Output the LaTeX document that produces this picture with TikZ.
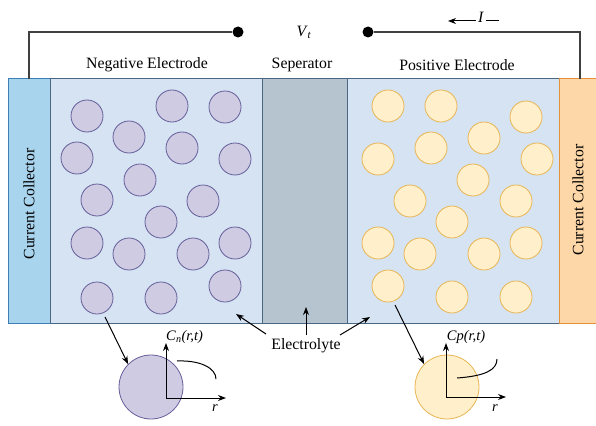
\documentclass[tikz,border=0pt]{standalone}
\usepackage{fontspec}
\setmainfont{Liberation Serif}
\usetikzlibrary{arrows.meta}
\definecolor{cclfill}{HTML}{A9D4EE}
\definecolor{cclline}{HTML}{3A80B6}
\definecolor{elfill}{HTML}{D5E3F3}
\definecolor{elline}{HTML}{4A6784}
\definecolor{sepfill}{HTML}{B5C4CF}
\definecolor{ccrfill}{HTML}{FED7A8}
\definecolor{ccrline}{HTML}{E6913A}
\definecolor{negfill}{HTML}{CECBE3}
\definecolor{negline}{HTML}{665F9A}
\definecolor{posfill}{HTML}{FFEFCA}
\definecolor{posline}{HTML}{E8B655}
\definecolor{wire}{HTML}{404040}
\begin{document}
\begin{tikzpicture}[x=1pt,y=-1pt,
  lbl/.style={font=\fontsize{15.8}{18}\selectfont, inner sep=0pt},
  slbl/.style={font=\fontsize{14.5}{17}\selectfont, inner sep=0pt},
  negp/.style={circle, draw=negline, fill=negfill, line width=0.8pt, minimum size=32pt, inner sep=0pt},
  posp/.style={circle, draw=posline, fill=posfill, line width=0.8pt, minimum size=32pt, inner sep=0pt},
  arr/.style={-{Stealth[length=8pt,width=6pt]}, line width=1pt, black},
  wireline/.style={draw=wire, line width=1.3pt},
  terminal/.style={circle, fill=black, minimum size=11pt, inner sep=0pt}]
\useasboundingbox (0,0) rectangle (596,425);
% regions
\path[fill=cclfill, draw=cclline, line width=1pt] (8,79) rectangle (50,323);
\path[fill=elfill, draw=elline, line width=1pt] (50,79) rectangle (262,323);
\path[fill=sepfill, draw=elline, line width=1pt] (262,79) rectangle (347,323);
\path[fill=elfill, draw=elline, line width=1pt] (347,79) rectangle (559,323);
\path[fill=ccrfill, draw=ccrline, line width=1pt] (559,79) rectangle (596,323);
% labels
\node[lbl, rotate=90] (ccl) at (29,204) {Current Collector};
\node[lbl, rotate=90] (ccr) at (578,200) {Current Collector};
\node[lbl] (negl) at (147,65) {Negative Electrode};
\node[lbl] (sepl) at (302,65) {Seperator};
\node[lbl] (posl) at (457,65) {Positive Electrode};
% wires
\coordinate (wl) at (29,79);
\coordinate (wr) at (580,79);
\node[terminal] (dL) at (238,32) {};
\node[terminal] (dR) at (368,32) {};
\draw[wireline] (wl) |- (dL);
\draw[wireline] (wr) |- (dR);
\node[lbl] (vt) at (304,32) {\textit{V}\textsubscript{\textit{t}}};
\coordinate (ia) at (499,21);
\coordinate (ib) at (448,21);
\draw[-{Stealth[length=8pt,width=6pt]}, line width=1pt] (ia) -- (ib);
\node[lbl, fill=white, inner xsep=2pt, inner ysep=1pt] (il) at (481,17) {\textit{I}};
% negative particles
\foreach \i/\x/\y in {1/87/116,2/172/106,3/225/107,4/129/137,5/182/148,6/77/158,7/235/159,8/140/180,9/97/200,10/203/201,11/161/222,12/87/243,13/129/254,14/193/254,15/235/243,16/97/298,17/161/298,18/225/286}
  \node[negp] (n\i) at (\x,\y) {};
% positive particles
\foreach \i/\x/\y in {1/388/106,2/441/106,3/526/117,4/484/138,5/431/148,6/378/159,7/537/159,8/473/180,9/410/201,10/516/201,11/452/222,12/378/243,13/420/254,14/484/254,15/526/243,16/388/286,17/452/297,18/516/297}
  \node[posp] (p\i) at (\x,\y) {};
% electrolyte
\node[lbl] (elec) at (306,346) {Electrolyte};
\coordinate (e1) at (236,314);
\coordinate (e2) at (306,307);
\coordinate (e3) at (370,317);
\coordinate (t1) at (266,334);
\coordinate (t2) at (306,335);
\coordinate (t3) at (340,335);
\draw[arr] (t1) -- (e1);
\draw[arr] (t2) -- (e2);
\draw[arr] (t3) -- (e3);
% negative sphere
\node[negp, minimum size=64pt] (ns) at (151,387) {};
\coordinate (na) at (105,317);
\draw[arr] (na) -- (ns.north west);
\coordinate (no) at (166,398);
\coordinate (ny) at (166,343);
\coordinate (nx) at (226,398);
\draw[arr] (no) -- (ny);
\draw[arr] (no) -- (nx);
\node[slbl, anchor=west] (cn) at (166,337) {\textit{C}\textsubscript{\textit{n}}\textit{(r,t)}};
\node[slbl] (nr) at (215,408) {\textit{r}};
\coordinate (nc1) at (177,361);
\coordinate (nc2) at (216,379);
\draw[line width=1pt] (nc1) .. controls (200,360) and (216,368) .. (nc2);
% positive sphere
\node[posp, minimum size=64pt] (ps) at (447,387) {};
\coordinate (pa) at (395,305);
\draw[arr] (pa) -- (ps.north west);
\coordinate (po) at (446,397);
\coordinate (py) at (446,343);
\coordinate (px) at (506,397);
\draw[arr] (po) -- (py);
\draw[arr] (po) -- (px);
\node[slbl] (cp) at (466,337) {\textit{Cp(r,t)}};
\node[slbl] (pr) at (495,408) {\textit{r}};
\coordinate (pc1) at (457,378);
\coordinate (pc2) at (497,359);
\draw[line width=1pt] (pc1) .. controls (485,376) and (497,370) .. (pc2);
\end{tikzpicture}
\end{document}
